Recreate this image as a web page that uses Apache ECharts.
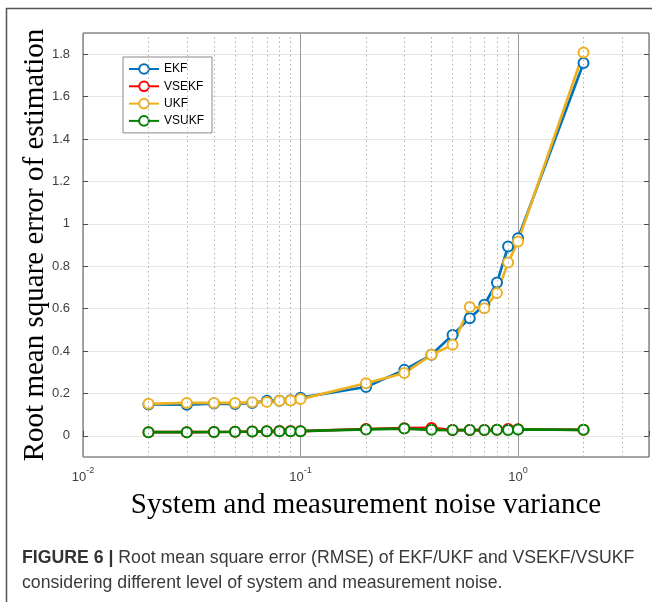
<!DOCTYPE html>
<html>
<head>
<meta charset="utf-8">
<script src="https://cdn.jsdelivr.net/npm/echarts@6/dist/echarts.min.js"></script>
<style>
html,body{margin:0;padding:0;background:#fff;}
#c{width:652px;height:602px;}
</style>
</head>
<body>
<div id="c"></div>
<script>
// ---- data ----
var noiseVar = [0.02,0.03,0.04,0.05,0.06,0.07,0.08,0.09,0.1,0.2,0.3,0.4,0.5,0.6,0.7,0.8,0.9,1,2];
var ekf   = [0.148,0.147,0.152,0.150,0.155,0.165,0.165,0.168,0.180,0.230,0.311,0.382,0.476,0.555,0.618,0.723,0.893,0.932,1.758];
var vsekf = [0.017,0.017,0.018,0.019,0.020,0.021,0.023,0.023,0.022,0.032,0.036,0.037,0.027,0.027,0.027,0.028,0.032,0.031,0.028];
var ukf   = [0.151,0.155,0.155,0.155,0.158,0.160,0.165,0.167,0.173,0.248,0.296,0.382,0.429,0.607,0.602,0.673,0.817,0.917,1.808];
var vsukf = [0.017,0.017,0.018,0.019,0.020,0.021,0.022,0.022,0.022,0.030,0.034,0.028,0.027,0.027,0.027,0.028,0.027,0.030,0.028];
var seriesNames = ['EKF','VSEKF','UKF','VSUKF'];
var yTicks = [0,0.2,0.4,0.6,0.8,1,1.2,1.4,1.6,1.8];
var xMinorGrid = [0.02,0.03,0.04,0.05,0.06,0.07,0.08,0.09,0.2,0.3,0.4,0.5,0.6,0.7,0.8,0.9,2,3];
var xRange = [0.01, 4];
var yRange = [-0.1, 1.9];
var caption1Bold = 'FIGURE 6 |';
var caption1 = ' Root mean square error (RMSE) of EKF/UKF and VSEKF/VSUKF';
var caption2 = 'considering different level of system and measurement noise.';

var colors = ['#0072BD','#FF0000','#EDB120','#008000'];
var allData = [ekf, vsekf, ukf, vsukf];

function pairs(arr){ return noiseVar.map(function(x,i){return [x,arr[i]];}); }

var series = seriesNames.map(function(n,i){
  return {
    name:n, type:'line', data:pairs(allData[i]),
    symbol:'emptyCircle', symbolSize:10,
    lineStyle:{width:2.7,color:colors[i]},
    itemStyle:{color:colors[i],borderColor:colors[i],borderWidth:2.3},
    emphasis:{disabled:true}, animation:false, z:3
  };
});
series.push({
  type:'line', data:[], silent:true, animation:false,
  markLine:{
    silent:true, symbol:'none', animation:false,
    label:{show:false},
    lineStyle:{type:[1.5,3],color:'#b0b0b0',width:1},
    data: xMinorGrid.map(function(v){return {xAxis:v};})
  }
});

function supLabel(v){
  var p = Math.round(Math.log10(v));
  if (Math.abs(Math.log10(v)-p) > 1e-6) return '';
  return '{b|10}{s|' + p + '}';
}

var chart = echarts.init(document.getElementById('c'), null, {renderer:'canvas'});
chart.setOption({
  backgroundColor:'#fff',
  animation:false,
  color:colors,
  grid:{left:83,right:3,top:33,bottom:145,show:true,borderColor:'#4a4a4a',borderWidth:1,backgroundColor:'transparent',outerBoundsMode:'none'},
  legend:{
    orient:'vertical', left:123, top:57,
    data:seriesNames,
    itemWidth:30, itemHeight:12, itemGap:5.3,
    padding:[6,8,6,5],
    backgroundColor:'#fff', borderColor:'#8a8a8a', borderWidth:1,
    textStyle:{fontFamily:'Liberation Sans, Arial',fontSize:12,color:'#000'},
    selectedMode:false
  },
  xAxis:{
    type:'log', logBase:10, min:xRange[0], max:xRange[1],
    name:'System and measurement noise variance',
    nameLocation:'middle', nameGap:34, nameMoveOverlap:false,
    nameTextStyle:{fontFamily:'Liberation Serif, Times New Roman',fontSize:29,color:'#000'},
    axisLine:{show:false},
    axisTick:{show:true,inside:true,length:5,lineStyle:{color:'#4a4a4a'}},
    axisLabel:{
      margin:9, formatter:supLabel, color:'#404040',
      rich:{
        b:{fontFamily:'Liberation Sans, Arial',fontSize:13,color:'#404040',verticalAlign:'bottom',lineHeight:18},
        s:{fontFamily:'Liberation Sans, Arial',fontSize:9,color:'#404040',verticalAlign:'top',lineHeight:18,padding:[0,0,0,0]}
      }
    },
    splitLine:{show:true,lineStyle:{color:'#9a9a9a',width:1}},
    minorTick:{show:false}
  },
  yAxis:[{
    type:'value', min:yRange[0], max:yRange[1],
    name:'Root mean square error of estimation',
    nameLocation:'middle', nameGap:33, nameMoveOverlap:false,
    nameTextStyle:{fontFamily:'Liberation Serif, Times New Roman',fontSize:29,color:'#000'},
    axisLine:{show:false},
    axisTick:{show:true,inside:true,length:5,customValues:yTicks,lineStyle:{color:'#4a4a4a'}},
    axisLabel:{customValues:yTicks,margin:13,fontFamily:'Liberation Sans, Arial',fontSize:13,color:'#404040'},
    splitLine:{show:true,lineStyle:{color:'#e6e6e6',width:1}}
  },{
    type:'value', min:yRange[0], max:yRange[1], position:'right',
    axisLine:{show:false},
    axisTick:{show:true,inside:true,length:5,customValues:yTicks,lineStyle:{color:'#4a4a4a'}},
    axisLabel:{show:false,customValues:yTicks},
    splitLine:{show:false}
  }],
  series:series,
  graphic:[
    {type:'line',shape:{x1:6,y1:8.5,x2:652,y2:8.5},style:{stroke:'#555',lineWidth:1.5},silent:true},
    {type:'line',shape:{x1:6.5,y1:8,x2:6.5,y2:602},style:{stroke:'#555',lineWidth:1.5},silent:true},
    {type:'text',left:22,top:549,silent:true,
     style:{text:'{bd|'+caption1Bold+'}{rg|'+caption1+'}',
       rich:{bd:{fontFamily:'Liberation Sans, Arial',fontSize:17.7,fontWeight:'bold',fill:'#333'},
             rg:{fontFamily:'Liberation Sans, Arial',fontSize:17.7,fill:'#3a3a3a'}}}},
    {type:'text',left:22,top:574,silent:true,
     style:{text:caption2,font:'17.7px Liberation Sans, Arial',fill:'#3a3a3a'}}
  ]
});
</script>
</body>
</html>
